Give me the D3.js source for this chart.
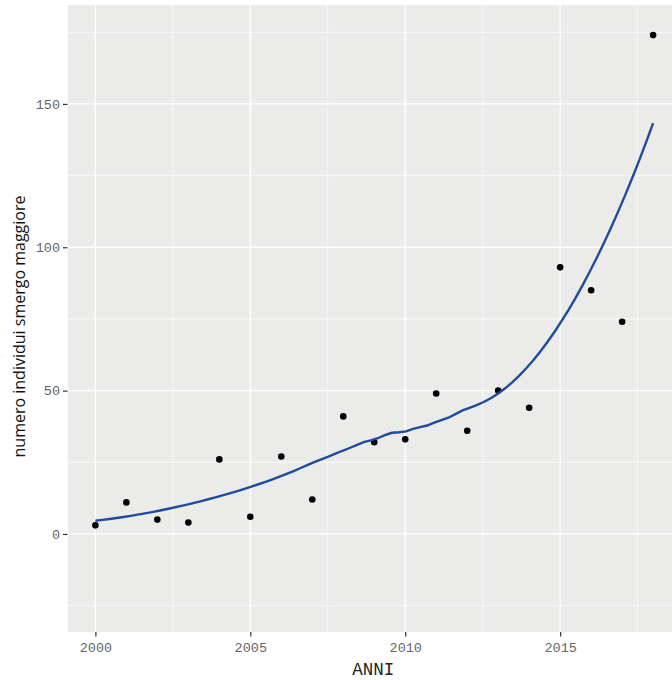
<!DOCTYPE html>
<html>
<head>
<meta charset="utf-8">
<script src="https://cdn.jsdelivr.net/npm/d3@7"></script>
<style>
  html, body { margin: 0; padding: 0; background: #fff; }
  svg { display: block; }
</style>
</head>
<body>
<svg id="chart" width="672" height="680"></svg>
<script>
// Annual counts of goosanders (smergo maggiore)
const years  = [2000, 2001, 2002, 2003, 2004, 2005, 2006, 2007, 2008, 2009,
                2010, 2011, 2012, 2013, 2014, 2015, 2016, 2017, 2018];
const counts = [3, 11, 5, 4, 26, 6, 27, 12, 41, 32,
                33, 49, 36, 50, 44, 93, 85, 74, 174];
const xTicks = [2000, 2005, 2010, 2015];
const yTicks = [0, 50, 100, 150];
const xMinor = [2002.5, 2007.5, 2012.5, 2017.5];
const yMinor = [-25, 25, 75, 125, 175];

const W = 672, H = 680;
const panel = { left: 67.5, top: 5, right: 681, bottom: 632 };
const monoFont = "'Courier New', Courier, 'Nimbus Mono PS', FreeMono, 'Liberation Mono', monospace";

const x = d3.scaleLinear().domain([1999.1, 2018.9]).range([panel.left, panel.right]);
const y = d3.scaleLinear().domain([-34.2, 184.5]).range([panel.bottom, panel.top]);

// Local quadratic regression (loess, span 0.75, tricube weights)
function loess(xs, ys, span, at) {
  const n = xs.length;
  const q = Math.floor(n * span);
  return at.map(x0 => {
    const dist = xs.map(xi => Math.abs(xi - x0));
    const sorted = dist.slice().sort((a, b) => a - b);
    const h = sorted[q - 1] * 1.0000001;
    const w = dist.map(d => { const u = d / h; return u < 1 ? Math.pow(1 - u * u * u, 3) : 0; });
    // weighted least squares for a + b t + c t^2, t = x - x0
    const S = [[0,0,0],[0,0,0],[0,0,0]], B = [0,0,0];
    for (let i = 0; i < n; i++) {
      if (w[i] === 0) continue;
      const t = xs[i] - x0, v = [1, t, t * t];
      for (let r = 0; r < 3; r++) {
        B[r] += w[i] * v[r] * ys[i];
        for (let c = 0; c < 3; c++) S[r][c] += w[i] * v[r] * v[c];
      }
    }
    const M = S.map((row, i) => row.concat([B[i]]));
    for (let i = 0; i < 3; i++) {
      let p = i;
      for (let r = i + 1; r < 3; r++) if (Math.abs(M[r][i]) > Math.abs(M[p][i])) p = r;
      [M[i], M[p]] = [M[p], M[i]];
      for (let r = i + 1; r < 3; r++) {
        const f = M[r][i] / M[i][i];
        for (let c = i; c < 4; c++) M[r][c] -= f * M[i][c];
      }
    }
    const sol = [0,0,0];
    for (let i = 2; i >= 0; i--) {
      let s = M[i][3];
      for (let c = i + 1; c < 3; c++) s -= M[i][c] * sol[c];
      sol[i] = s / M[i][i];
    }
    return [x0, sol[0]];
  });
}

const svg = d3.select("#chart");

svg.append("clipPath").attr("id", "clip")
  .append("rect")
  .attr("x", panel.left).attr("y", panel.top)
  .attr("width", W - panel.left).attr("height", panel.bottom - panel.top);

const g = svg.append("g").attr("clip-path", "url(#clip)");

g.append("rect")
  .attr("x", panel.left).attr("y", panel.top)
  .attr("width", panel.right - panel.left).attr("height", panel.bottom - panel.top)
  .attr("fill", "#ebebea");

// minor grid
g.selectAll(".vminor").data(xMinor).join("line")
  .attr("x1", d => x(d)).attr("x2", d => x(d))
  .attr("y1", panel.top).attr("y2", panel.bottom)
  .attr("stroke", "#fff").attr("stroke-width", 0.7);
g.selectAll(".hminor").data(yMinor).join("line")
  .attr("y1", d => y(d)).attr("y2", d => y(d))
  .attr("x1", panel.left).attr("x2", panel.right)
  .attr("stroke", "#fff").attr("stroke-width", 0.7);

// major grid
g.selectAll(".vmajor").data(xTicks).join("line")
  .attr("x1", d => x(d)).attr("x2", d => x(d))
  .attr("y1", panel.top).attr("y2", panel.bottom)
  .attr("stroke", "#fff").attr("stroke-width", 1.3);
g.selectAll(".hmajor").data(yTicks).join("line")
  .attr("y1", d => y(d)).attr("y2", d => y(d))
  .attr("x1", panel.left).attr("x2", panel.right)
  .attr("stroke", "#fff").attr("stroke-width", 1.3);

// points
g.selectAll("circle").data(years.map((yr, i) => [yr, counts[i]])).join("circle")
  .attr("cx", d => x(d[0])).attr("cy", d => y(d[1]))
  .attr("r", 3.3).attr("fill", "#000");

// smooth
const grid = d3.range(80).map(i => 2000 + 18 * i / 79);
const fit = loess(years, counts, 0.75, grid);
g.append("path")
  .datum(fit)
  .attr("fill", "none")
  .attr("stroke", "#1f4a9f")
  .attr("stroke-width", 2.4)
  .attr("d", d3.line().x(d => x(d[0])).y(d => y(d[1])));

// axes
const xAxis = d3.axisBottom(x).tickValues(xTicks).tickFormat(d3.format("d"))
  .tickSize(4.5).tickPadding(6);
const yAxis = d3.axisLeft(y).tickValues(yTicks).tickFormat(d3.format("d"))
  .tickSize(4.5).tickPadding(3);

const gx = svg.append("g").attr("transform", `translate(0,${panel.bottom})`).call(xAxis);
const gy = svg.append("g").attr("transform", `translate(${panel.left},0)`).call(yAxis);
[gx, gy].forEach(a => {
  a.select(".domain").remove();
  a.selectAll(".tick line").attr("stroke", "#333").attr("stroke-width", 1.2);
  a.selectAll(".tick text")
    .attr("fill", "#666")
    .style("font-family", monoFont)
    .style("font-size", "13.5px");
});

// axis titles
svg.append("text")
  .attr("x", (panel.left + panel.right) / 2 - 1).attr("y", 675)
  .attr("text-anchor", "middle")
  .style("font-family", monoFont)
  .style("font-size", "17.5px")
  .attr("fill", "#222")
  .text("ANNI");

svg.append("text")
  .attr("transform", `translate(25,${(panel.top + panel.bottom) / 2 + 8}) rotate(-90)`)
  .attr("text-anchor", "middle")
  .style("font-family", "'Open Sans', 'Noto Sans', sans-serif")
  .style("font-size", "16px")
  .attr("fill", "#111")
  .text("numero individui smergo maggiore");
</script>
</body>
</html>
